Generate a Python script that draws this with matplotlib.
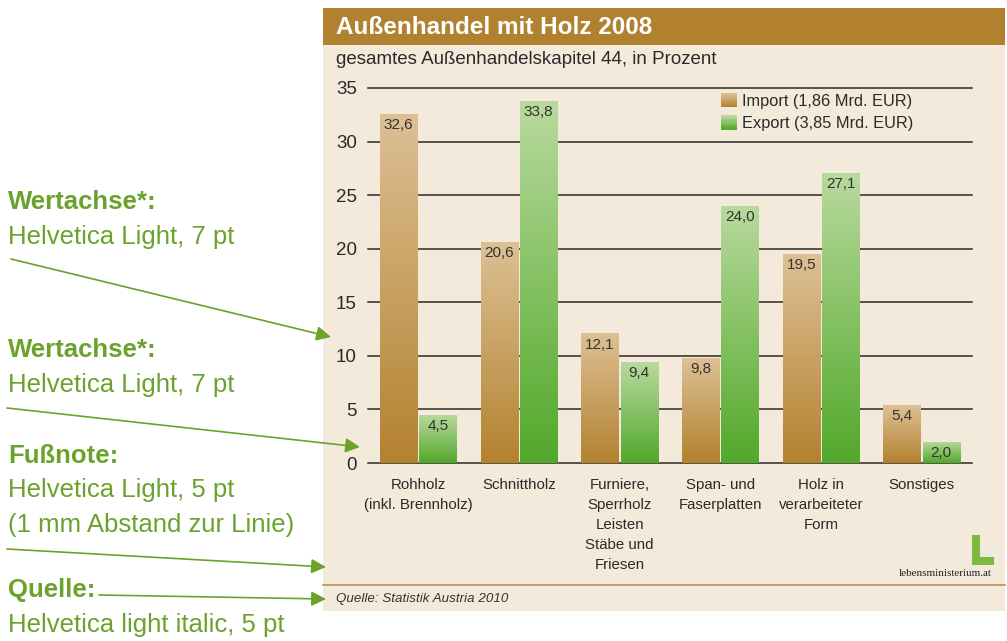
import numpy as np
import matplotlib
matplotlib.use("Agg")
import matplotlib.pyplot as plt
from matplotlib.patches import Rectangle, Patch, FancyArrowPatch
from matplotlib.colors import LinearSegmentedColormap
from matplotlib.legend_handler import HandlerBase

# ---- data ----
categories = ["Rohholz\n(inkl. Brennholz)", "Schnittholz",
              "Furniere,\nSperrholz\nLeisten\nStäbe und\nFriesen",
              "Span- und\nFaserplatten", "Holz in\nverarbeiteter\nForm", "Sonstiges"]
import_vals = [32.6, 20.6, 12.1, 9.8, 19.5, 5.4]
export_vals = [4.5, 33.8, 9.4, 24.0, 27.1, 2.0]
series_labels = ["Import (1,86 Mrd. EUR)", "Export (3,85 Mrd. EUR)"]
yticks = [0, 5, 10, 15, 20, 25, 30, 35]

title = "Außenhandel mit Holz 2008"
subtitle = "gesamtes Außenhandelskapitel 44, in Prozent"
source = "Quelle: Statistik Austria 2010"

plt.rcParams['font.family'] = ['Liberation Sans', 'DejaVu Sans']

W, H = 1007, 641
fig = plt.figure(figsize=(W / 100, H / 100), dpi=100)
fig.patch.set_facecolor("white")


def F(x, y):
    return (x / W, 1 - y / H)


BG = "#F3EADC"
HEAD = "#B1812F"
GREEN_TXT = "#6BA22C"

# panel background & header
fig.patches.append(Rectangle(F(323, 611), (1005 - 323) / W, (611 - 8) / H,
                             transform=fig.transFigure, facecolor=BG, edgecolor="none", zorder=-2))
fig.patches.append(Rectangle(F(323, 45), (1005 - 323) / W, (45 - 8) / H,
                             transform=fig.transFigure, facecolor=HEAD, edgecolor="none", zorder=-1))
fig.text(*F(336, 27), title, color="white", fontsize=17.5, fontweight="bold", va="center", ha="left")
fig.text(*F(336, 60), subtitle, color="#2a2a2a", fontsize=13.5, va="center", ha="left")

# footer line & source
fig.add_artist(plt.Line2D([323 / W, 1005 / W], [1 - 585 / H] * 2, color="#B8925A", lw=1.2,
                          transform=fig.transFigure))
fig.text(*F(336, 599), source, color="#333333", fontsize=9.6, style="italic", va="center", ha="left")

# logo
fig.text(*F(945, 574), "lebensministerium.at", family="Liberation Serif", fontsize=8,
         color="#222222", ha="center", va="center")
for (x0, y0, x1, y1) in [(972, 535, 980, 565), (972, 557, 994, 565)]:
    fig.patches.append(Rectangle(F(x0, y1), (x1 - x0) / W, (y1 - y0) / H, transform=fig.transFigure,
                                 facecolor="#7DB843", edgecolor="none", zorder=2))

# ---- axes ----
ax = fig.add_axes([368 / W, 1 - 463 / H, (972 - 368) / W, (463 - 88) / H])
ax.set_zorder(5)
ax.set_facecolor("none")
for s in ax.spines.values():
    s.set_visible(False)

x = np.arange(len(categories))
bw = 0.37
off = 0.195

imp_cmap = LinearSegmentedColormap.from_list("imp", ["#B3822F", "#DDC095"])
exp_cmap = LinearSegmentedColormap.from_list("exp", ["#52A82A", "#B9DA9E"])
grad = np.linspace(0, 1, 256).reshape(-1, 1)

for t in yticks:
    ax.axhline(t, color="#2E2824", lw=1.1, zorder=1, clip_on=False)

for vals, pos, cmap, mid in [(import_vals, x - off, imp_cmap, "#C9A063"),
                             (export_vals, x + off, exp_cmap, "#86C266")]:
    bars = ax.bar(pos, vals, width=bw, color=mid, zorder=2)
    for b, v in zip(bars, vals):
        x0, w_ = b.get_x(), b.get_width()
        im = ax.imshow(grad, extent=[x0, x0 + w_, 0, v], origin="lower", aspect="auto",
                       cmap=cmap, zorder=3)
        im.set_clip_path(b)
        ax.annotate(f"{v:.1f}".replace(".", ","), (x0 + w_ / 2, v), xytext=(0, -3),
                    textcoords="offset points", ha="center", va="top", fontsize=11,
                    color="#333333", zorder=4)

ax.set_xlim(-0.5, len(categories) - 0.5)
ax.set_ylim(0, 35)
ax.set_yticks(yticks)
ax.set_yticklabels([str(t) for t in yticks], fontsize=13.5, color="#2a2a2a")
ax.set_xticks(x)
ax.set_xticklabels(categories, fontsize=10.8, color="#2a2a2a", va="top")
for lbl in ax.get_xticklabels():
    lbl.set_linespacing(1.53)
ax.tick_params(axis="y", length=0, pad=8)
ax.tick_params(axis="x", length=0, pad=11)


class GradHandler(HandlerBase):
    def __init__(self, cmap):
        super().__init__()
        self.cmap = cmap

    def create_artists(self, legend, orig_handle, xdescent, ydescent, width, height,
                       fontsize, trans):
        n = 12
        arts = []
        for i in range(n):
            r = Rectangle((-xdescent, -ydescent + height * i / n), width, height / n + 0.3,
                          facecolor=self.cmap(i / (n - 1)), edgecolor="none", transform=trans)
            arts.append(r)
        return arts


h_imp = Patch(facecolor="#C9A063", edgecolor="none")
h_exp = Patch(facecolor="#86C266", edgecolor="none")
leg = fig.legend([h_imp, h_exp], series_labels, loc="upper left", bbox_to_anchor=F(721, 93),
                 bbox_transform=fig.transFigure, frameon=False, fontsize=11.8,
                 handlelength=0.95, handleheight=0.95, handletextpad=0.35, labelspacing=0.42,
                 borderpad=0, borderaxespad=0,
                 handler_map={h_imp: GradHandler(imp_cmap), h_exp: GradHandler(exp_cmap)})
for t in leg.get_texts():
    t.set_color("#2a2a2a")

# ---- left annotations ----
ann_texts = [
    (209, "Wertachse*:", "bold"), (244, "Helvetica Light, 7 pt", "normal"),
    (357, "Wertachse*:", "bold"), (392, "Helvetica Light, 7 pt", "normal"),
    (463, "Fußnote:", "bold"), (497, "Helvetica Light, 5 pt", "normal"),
    (532, "(1 mm Abstand zur Linie)", "normal"),
    (597, "Quelle:", "bold"), (632, "Helvetica light italic, 5 pt", "normal"),
]
for y, s, wgt in ann_texts:
    fig.text(*F(8, y), s, color=GREEN_TXT, fontsize=18.5, fontweight=wgt, va="baseline", ha="left")

arrows = [((11, 259), (331, 337)), ((7, 408), (360, 447)),
          ((7, 549), (326, 567)), ((99, 595), (326, 599))]
for (sx, sy), (ex, ey) in arrows:
    fig.add_artist(FancyArrowPatch(
        F(sx, sy), F(ex, ey), transform=fig.transFigure, arrowstyle="-|>",
        mutation_scale=22, color=GREEN_TXT, lw=1.2, shrinkA=0, shrinkB=0))

fig.savefig("out.png", dpi=100)
